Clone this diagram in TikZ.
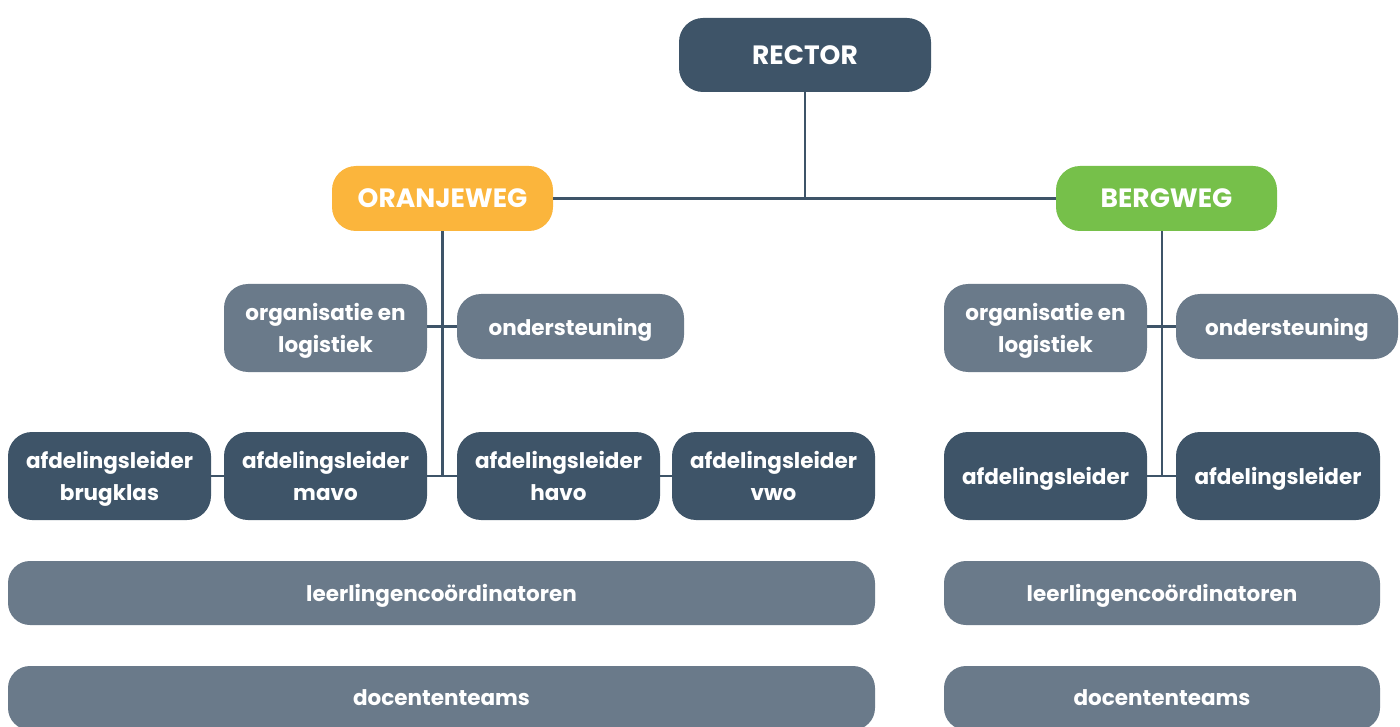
\documentclass[tikz,border=0pt]{standalone}
\usepackage{fontspec}
\setmainfont{Poppins}[Ligatures=NoCommon]
\definecolor{navy}{HTML}{3E5468}
\definecolor{slate}{HTML}{6A7A8A}
\definecolor{orng}{HTML}{FBB53C}
\definecolor{grn}{HTML}{76C04A}
\begin{document}
\begin{tikzpicture}[x=1pt,y=-1pt,
  box/.style={rounded corners=24pt, inner sep=0pt, align=center, text=white, text depth=0pt,
    font=\fontsize{21.5}{32}\selectfont\bfseries},
  dark/.style={box, fill=navy},
  light/.style={box, fill=slate},
  head/.style={box, font=\fontsize{26.5}{32}\selectfont\bfseries},
  wire/.style={draw=navy, line width=2.6pt}]
\useasboundingbox (0,0) rectangle (1400,727);
\begin{scope}
\clip (0,0) rectangle (1400,727);
% top
\node[head, fill=navy, minimum width=252pt, minimum height=74pt] (rector) at (805,55) {RECTOR};
\node[head, fill=orng, minimum width=221pt, minimum height=65pt] (oran) at (442.5,198.5) {ORANJEWEG};
\node[head, fill=grn, minimum width=221pt, minimum height=65pt] (berg) at (1166.5,198.5) {BERGWEG};
% left second level
\node[light, minimum width=203pt, minimum height=88pt] (orgL) at (325.5,328) {organisatie en\\logistiek};
\node[light, minimum width=227pt, minimum height=65pt] (ondL) at (570.5,326.5) {ondersteuning};
\node[dark, minimum width=203pt, minimum height=88pt] (brug) at (109.5,476) {afdelingsleider\\brugklas};
\node[dark, minimum width=203pt, minimum height=88pt] (mavo) at (325.5,476) {afdelingsleider\\mavo};
\node[dark, minimum width=203pt, minimum height=88pt] (havo) at (558.5,476) {afdelingsleider\\havo};
\node[dark, minimum width=203pt, minimum height=88pt] (vwo) at (773.5,476) {afdelingsleider\\vwo};
\node[light, rounded corners=22pt, minimum width=867pt, minimum height=64pt] (llL) at (441.5,593) {leerlingencoördinatoren};
\node[light, rounded corners=22pt, minimum width=867pt, minimum height=64pt] (dtL) at (441.5,698) {docententeams};
% right
\node[light, minimum width=203pt, minimum height=88pt] (orgR) at (1045.5,328) {organisatie en\\logistiek};
\node[light, minimum width=222pt, minimum height=65pt] (ondR) at (1287,326.5) {ondersteuning};
\node[dark, minimum width=203pt, minimum height=88pt] (afR1) at (1045.5,476) {afdelingsleider};
\node[dark, minimum width=204pt, minimum height=88pt] (afR2) at (1278,476) {afdelingsleider};
\node[light, rounded corners=22pt, minimum width=436pt, minimum height=64pt] (llR) at (1162,593) {leerlingencoördinatoren};
\node[light, rounded corners=22pt, minimum width=436pt, minimum height=64pt] (dtR) at (1162,698) {docententeams};
\end{scope}
% connectors
\draw[wire] (rector.south) -- (rector.south |- oran.east);
\draw[wire] (oran.east) -- (berg.west);
\draw[wire] (oran.south) -- (oran.south |- mavo.east);
\draw[wire] (orgL.east |- ondL.west) -- (ondL.west);
\draw[wire] (brug.east) -- (mavo.west);
\draw[wire] (mavo.east) -- (havo.west);
\draw[wire] (havo.east) -- (vwo.west);
\draw[wire] ([xshift=-4.5pt]berg.south) -- ([xshift=-4.5pt]berg.south |- afR1.east);
\draw[wire] (orgR.east |- ondR.west) -- (ondR.west);
\draw[wire] (afR1.east) -- (afR2.west);
\end{tikzpicture}
\end{document}
